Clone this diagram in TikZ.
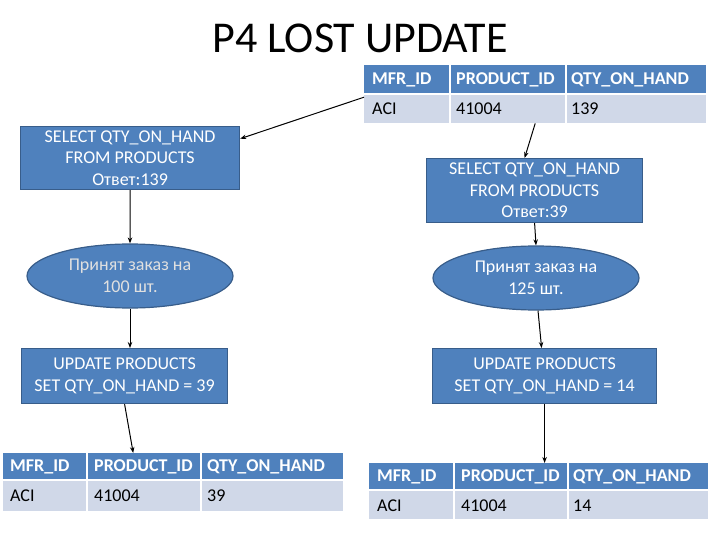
\documentclass[tikz,border=0pt]{standalone}
\usepackage{fontspec}
\setmainfont{Carlito}
\usetikzlibrary{shapes.geometric,arrows.meta}
\definecolor{boxBlue}{HTML}{4F81BD}
\definecolor{boxEdge}{HTML}{385D8A}
\definecolor{rowGrey}{HTML}{D0D8E8}

\tikzset{
  query/.style={draw=boxEdge, line width=1.2pt, fill=boxBlue, text=white, align=center,
    inner sep=0pt, anchor=north west, font=\fontsize{18}{21.6}\selectfont},
  order/.style={ellipse, draw=boxEdge, line width=1.2pt, fill=boxBlue, text=white, align=center,
    inner sep=0pt, minimum width=206pt, minimum height=64pt, font=\fontsize{18}{21.6}\selectfont},
  tablebox/.style={fill=rowGrey, inner sep=0pt, anchor=north west},
  hdrtxt/.style={anchor=west, text=white, inner sep=0pt, font=\fontsize{18}{21.6}\selectfont\bfseries},
  celltxt/.style={anchor=west, text=black, inner sep=0pt, font=\fontsize{18}{21.6}\selectfont},
  link/.style={-{Stealth[length=6pt,width=4.5pt]}, line width=1pt},
  sep/.style={white, line width=1.5pt}
}

\begin{document}
\begin{tikzpicture}[x=1pt, y=-1pt]
\useasboundingbox (0,0) rectangle (720,540);

\node[font=\fontsize{44}{50}\selectfont] (title) at (360,38) {P4 LOST UPDATE};

% stock table before both transactions
\node[tablebox, minimum width=342pt, minimum height=58pt] (stockA) at (364,65) {};
\fill[boxBlue] (364,65) rectangle (706,94);
\draw[sep] (450,65) -- (450,123);
\draw[sep] (566,65) -- (566,123);
\draw[sep] (364,94) -- (706,94);
\node[hdrtxt] (aMfr) at (372,80) {MFR\_ID};
\node[hdrtxt] (aProd) at (456,80) {PRODUCT\_ID};
\node[hdrtxt] (aQty) at (571,80) {QTY\_ON\_HAND};
\node[celltxt] (aAci) at (372,109) {ACI};
\node[celltxt] (aNum) at (456,109) {41004};
\node[celltxt] (aVal) at (571,109) {139};

% left transaction
\node[query, minimum width=219pt, minimum height=63pt] (selA) at (20,126)
  {SELECT QTY\_ON\_HAND\\FROM PRODUCTS\\Ответ:139};
\node[order, text=black!12] (ordA) at (130,276) {Принят заказ на\\100 шт.};
\node[query, minimum width=206pt, minimum height=55pt] (updA) at (21,348)
  {UPDATE PRODUCTS\\SET QTY\_ON\_HAND = 39};

% right transaction
\node[query, minimum width=216pt, minimum height=64pt] (selB) at (426,158)
  {SELECT QTY\_ON\_HAND\\FROM PRODUCTS\\Ответ:39};
\node[order] (ordB) at (536,278) {Принят заказ на\\125 шт.};
\node[query, minimum width=224pt, minimum height=55pt] (updB) at (432,348)
  {UPDATE PRODUCTS\\SET QTY\_ON\_HAND = 14};

% stock table after the left update
\node[tablebox, minimum width=340pt, minimum height=58pt] (stockB) at (3,453) {};
\fill[boxBlue] (3,453) rectangle (343,480);
\draw[sep] (87,453) -- (87,511);
\draw[sep] (201,453) -- (201,511);
\draw[sep] (3,480) -- (343,480);
\node[hdrtxt] (bMfr) at (10,467) {MFR\_ID};
\node[hdrtxt] (bProd) at (94,467) {PRODUCT\_ID};
\node[hdrtxt] (bQty) at (207,467) {QTY\_ON\_HAND};
\node[celltxt] (bAci) at (10,496) {ACI};
\node[celltxt] (bNum) at (94,496) {41004};
\node[celltxt] (bVal) at (207,496) {39};

% stock table after the right update
\node[tablebox, minimum width=339pt, minimum height=56pt] (stockC) at (369,463) {};
\fill[boxBlue] (369,463) rectangle (708,490);
\draw[sep] (454,463) -- (454,519);
\draw[sep] (568,463) -- (568,519);
\draw[sep] (369,490) -- (708,490);
\node[hdrtxt] (cMfr) at (377,477) {MFR\_ID};
\node[hdrtxt] (cProd) at (461,477) {PRODUCT\_ID};
\node[hdrtxt] (cQty) at (573,477) {QTY\_ON\_HAND};
\node[celltxt] (cAci) at (377,506) {ACI};
\node[celltxt] (cNum) at (461,506) {41004};
\node[celltxt] (cVal) at (573,506) {14};

% connectors
\draw[link] ([yshift=-3pt]stockA.west) -- (selA.10);
\draw[link] (stockA.south) -- ([xshift=-10pt]selB.north);
\draw[link] (selA.south) -- (ordA.north);
\draw[link] (ordA.south) -- (ordA.south |- updA.north);
\draw[link] (updA.south) -- ([xshift=-40pt]stockB.north);
\draw[link] (selB.south) -- (ordB.north);
\draw[link] ([xshift=2pt]ordB.south) -- ([xshift=-3pt]updB.north);
\draw[link] (updB.south) -- (updB.south |- stockC.north);
\end{tikzpicture}
\end{document}
